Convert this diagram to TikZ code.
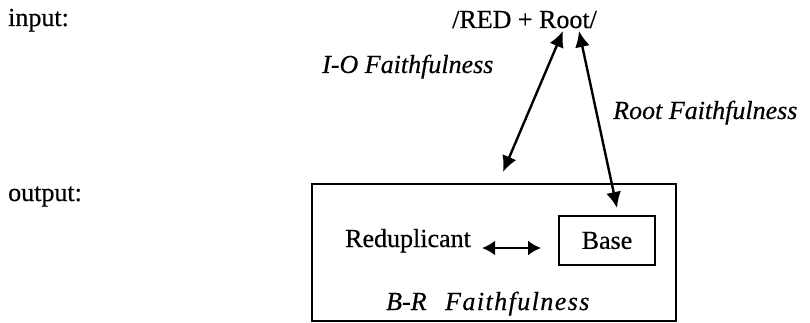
\documentclass[tikz,border=0pt]{standalone}
\usepackage{fontspec}
\setmainfont{Liberation Serif}[FakeBold=0.5]
\newfontfamily\spaceditalic{Liberation Serif}[LetterSpace=5.5,FakeBold=0.5]
\usetikzlibrary{arrows.meta}
\begin{document}
\begin{tikzpicture}[x=1pt,y=-1pt,
  lbl/.style={inner sep=0pt, anchor=base west, font=\fontsize{26}{31}\selectfont},
  ital/.style={inner sep=0pt, anchor=base west, font=\fontsize{26}{31}\selectfont\itshape},
  tip/.tip={Latex[length=16pt,width=15pt]},
  smalltip/.tip={Latex[length=13pt,width=15pt]},
  conn/.style={line width=2.4pt, tip-tip},
  conntwo/.style={line width=2.4pt, smalltip-smalltip},
  frame/.style={draw, line width=1.9pt, inner sep=0pt}]
\useasboundingbox (0,0) rectangle (810,323);
\node[lbl] (input) at (8,26) {input:};
\node[lbl] (output) at (8,201) {output:};
\node[lbl] (ur) at (452,28) {/RED + Root/};
\node[ital] (io) at (322,73) {I-O Faithfulness};
\node[ital] (rf) at (613,119) {Root Faithfulness};
\node[frame, minimum width=364pt, minimum height=137pt] (out) at (494,252.5) {};
\node[frame, minimum width=96pt, minimum height=49pt, font=\fontsize{26}{31}\selectfont] (base) at (607,240.5) {Base};
\node[lbl] (redup) at (345,247) {Reduplicant};
\node[ital] (br) at (386,310) {B-R\hspace{12pt} {\spaceditalic Faithfulness}};
\coordinate (ioT) at (563,31);
\coordinate (rtT) at (579,31);
\coordinate (ioB) at (503,172);
\coordinate (rtB) at (617,208);
\draw[conn] (ioT) -- (ioB);
\draw[conn] (rtT) -- (rtB);
\draw[conntwo] ([shift={(11,1)}]redup.base east) -- ++(59,0);
\end{tikzpicture}
\end{document}
